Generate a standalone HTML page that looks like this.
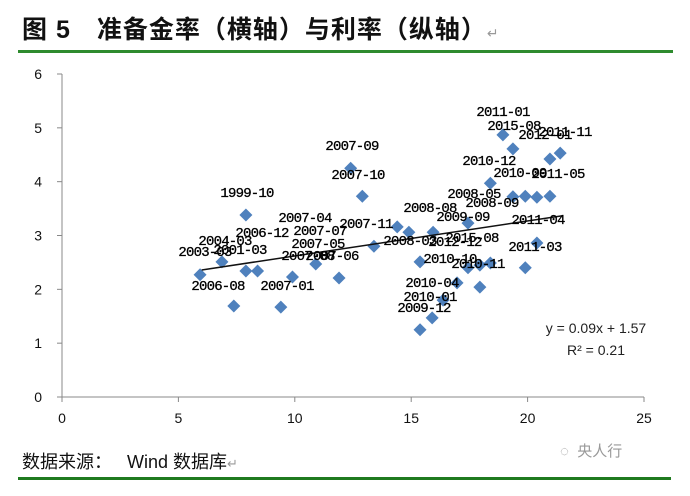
<!DOCTYPE html>
<html><head><meta charset="utf-8">
<style>
body{margin:0;width:690px;height:496px;background:#fff;overflow:hidden;position:relative;font-family:"Liberation Sans","Noto Sans CJK SC",sans-serif;}
#title{position:absolute;left:22px;top:10px;font-size:25px;font-weight:bold;color:#111;letter-spacing:1px;font-family:"Liberation Sans","Noto Sans CJK SC",sans-serif;white-space:nowrap}
#title .ret{font-size:14px;color:#999;font-weight:normal}
.gl{position:absolute;background:#2e8b2e}
#source{position:absolute;left:22px;top:448px;font-size:18px;color:#111;}
#wm{position:absolute;left:560px;top:440px;font-size:15px;color:#999;}
</style></head><body>
<div id="title">图 5　准备金率（横轴）与利率（纵轴）<span class="ret">↵</span></div>
<div class="gl" style="left:18px;top:50px;width:655px;height:3px"></div>
<svg id="chart" width="690" height="496" style="position:absolute;left:0;top:0"></svg>
<div id="source">数据来源：&nbsp;&nbsp; Wind 数据库<span style="font-size:13px;color:#999">↵</span></div>
<div id="wm">◌&nbsp; 央人行</div>
<div class="gl" style="left:18px;top:477px;width:653px;height:3px;background:#1f7a1f"></div>
<script>
const xTicks=[0,5,10,15,20,25];
const yTicks=[0,1,2,3,4,5,6];
const ptX=[5.93,6.87,7.38,7.9,7.9,8.4,9.9,9.4,10.9,11.9,12.4,12.9,13.4,14.4,14.9,18.94,19.37,20.96,21.4,18.4,19.37,19.9,20.4,20.96,17.44,15.94,15.38,17.95,18.4,17.44,20.4,19.9,17.95,16.97,16.37,15.9,15.38];
const ptY=[2.27,2.51,1.69,3.38,2.34,2.34,2.23,1.67,2.47,2.21,4.25,3.73,2.8,3.16,3.06,4.87,4.61,4.42,4.53,3.97,3.72,3.73,3.71,3.73,3.23,3.06,2.51,2.45,2.49,2.4,2.86,2.4,2.04,2.12,1.8,1.47,1.25];
const trendSlope=0.065, trendIntercept=1.97, trendFrom=6, trendTo=21.5;
const labels=["1999-10","2007-09","2007-10","2007-04","2006-12","2007-07","2007-11","2007-05","2004-03","2001-03","2003-03","2006-08","2007-01","2007-08","2007-06","2008-05","2008-09","2008-08","2009-09","2008-03","2011-01","2015-08","2012-01","2011-11","2010-12","2010-09","2011-05","2011-04","2011-03","2015-08","2012-12","2010-10","2010-11","2010-04","2010-01","2009-12"];
const labelPos=[[247,192],[352,145],[358,174],[305,217],[262,232],[320,230],[366,223],[318,243],[225,240],[240,249],[205,251],[218,285],[287,285],[308,255],[332,255],[474,193],[492,202],[430,207],[463,216],[410,240],[503,111],[514,125],[545,134],[565,131],[489,160],[520,172],[558,173],[538,219],[535,246],[472,237],[455,241],[450,258],[478,263],[432,282],[430,296],[424,307]];
const svg=document.getElementById('chart');
const NS='http://www.w3.org/2000/svg';
const X0=62,X1=644,Y0=397,Y1=74;
const sx=v=>X0+(v-0)/(25-0)*(X1-X0);
const sy=v=>Y0-(v-0)/(6-0)*(Y0-Y1);
function el(t,a){const e=document.createElementNS(NS,t);for(const k in a)e.setAttribute(k,a[k]);svg.appendChild(e);return e;}
let ax=el('line',{x1:X0,y1:Y0,x2:X1,y2:Y0,stroke:'#888','stroke-width':1});


let ay=el('line',{x1:X0,y1:Y0,x2:X0,y2:Y1,stroke:'#888','stroke-width':1});


xTicks.forEach(v=>{
 el('line',{x1:sx(v),y1:Y0,x2:sx(v),y2:Y0+5,stroke:'#888'});
 const t=el('text',{x:sx(v),y:Y0+26,'text-anchor':'middle','font-size':14,'font-family':'Liberation Sans, sans-serif',fill:'#111'});t.textContent=v;
 
 
});
yTicks.forEach(v=>{
 el('line',{x1:X0-5,y1:sy(v),x2:X0,y2:sy(v),stroke:'#888'});
 const t=el('text',{x:X0-20,y:sy(v)+5,'text-anchor':'end','font-size':14,'font-family':'Liberation Sans, sans-serif',fill:'#111'});t.textContent=v;
 
 
});
ptX.forEach((x,i)=>{
 const cx=sx(x),cy=sy(ptY[i]),r=6.5;
 const p=el('polygon',{points:`${cx},${cy-r} ${cx+r},${cy} ${cx},${cy+r} ${cx-r},${cy}`,fill:'#4f81bd'});
 
 
});
const tl=el('line',{x1:sx(trendFrom),y1:sy(trendSlope*trendFrom+trendIntercept),x2:sx(trendTo),y2:sy(trendSlope*trendTo+trendIntercept),stroke:'#111','stroke-width':1.5});


labels.forEach((s,i)=>{
 const t=el('text',{x:labelPos[i][0],y:labelPos[i][1]+5,'text-anchor':'middle','font-size':14,'font-family':'Liberation Mono, monospace',fill:'#000','letter-spacing':'-0.8','stroke':'#000','stroke-width':0.3});t.textContent=s;
 
 
});
const e1=el('text',{x:596,y:333,'text-anchor':'middle','font-size':14,fill:'#222','font-family':'Liberation Sans, sans-serif'});e1.textContent='y = 0.09x + 1.57';


const e2=el('text',{x:596,y:355,'text-anchor':'middle','font-size':14,fill:'#222','font-family':'Liberation Sans, sans-serif'});e2.textContent='R² = 0.21';


</script>
</body></html>
